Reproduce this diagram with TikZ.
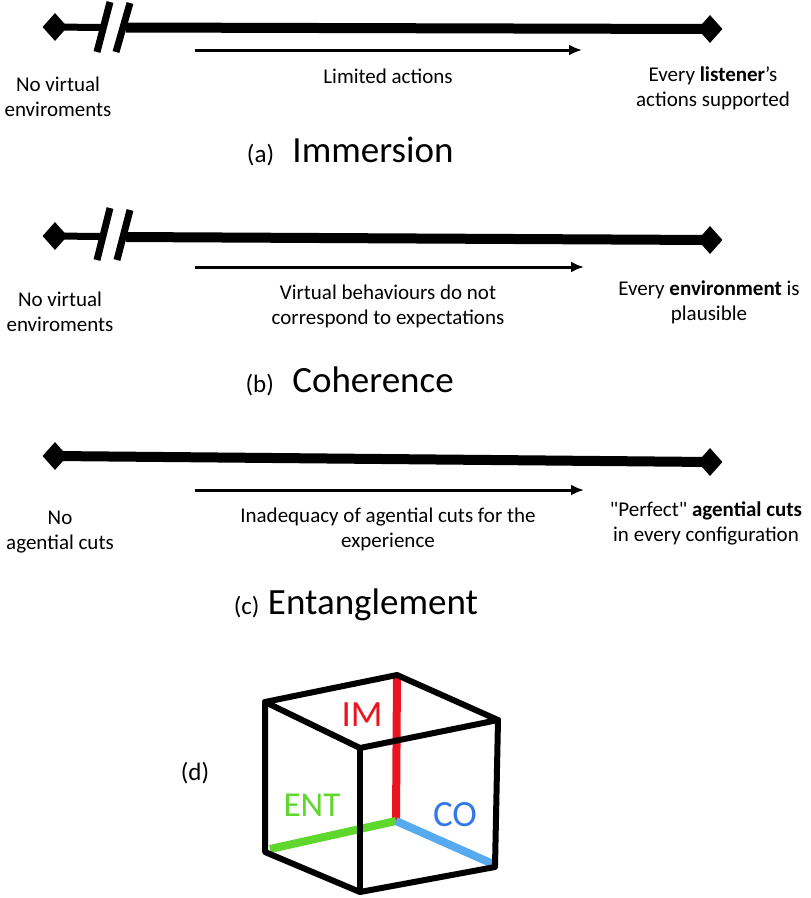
\documentclass[tikz,border=0pt]{standalone}
\usepackage{fontspec}
\setmainfont{Carlito}
\usepackage{xcolor}
\usetikzlibrary{calc, shapes.geometric, positioning, arrows.meta}

\definecolor{imred}{RGB}{235,20,30}
\definecolor{entgreen}{RGB}{95,215,45}
\definecolor{coblue}{RGB}{85,170,240}
\definecolor{cotext}{RGB}{50,120,235}

\tikzset{
    endmark/.style={diamond, fill=black, inner sep=0pt, minimum width=25pt, minimum height=28pt},
    thickbar/.style={line width=10pt},
    thinbar/.style={line width=7pt},
    breakmark/.style={line width=7pt},
    trend/.style={line width=3pt, -{Latex[length=13pt,width=11pt]}},
    lbl/.style={font=\fontsize{21}{25}\selectfont, align=center},
    ttl/.style={font=\fontsize{37}{40}\selectfont, inner sep=0pt},
    tag/.style={font=\fontsize{25}{28}\selectfont, inner sep=0pt},
    edge/.style={line width=6pt, line cap=round, line join=round},
    axis/.style={line width=8pt}
}

\begin{document}
\begin{tikzpicture}[x=1pt, y=-1pt]
    \useasboundingbox (0,0) rectangle (811,898);

    % 1. Immersion
    \node[endmark] (aL) at (55,27) {};
    \node[endmark] (aR) at (710,29) {};
    \coordinate (aB1) at (101,27.5);
    \coordinate (aB2) at (126,27.5);
    \draw[thinbar] (aL.center) -- (aB1);
    \draw[thickbar] (aB2) -- (aR.center);
    \draw[breakmark] (110,2) -- (97,52);
    \draw[breakmark] (130,3) -- (116,52);
    \coordinate (aS) at (195,50);
    \coordinate (aE) at (582,50);
    \draw[trend] (aS) -- (aE);
    \node[lbl] (aLow) at (58,97) {No virtual\\enviroments};
    \node[lbl] (aMid) at (388,76) {Limited actions};
    \node[lbl] (aHigh) at (713,88) {Every \textbf{listener}’s\\actions supported};
    \node[ttl] (aTtl) at (373,150) {Immersion};
    \node[tag, anchor=base east] (aTag) at ($(aTtl.base west)+(-18,0)$) {(a)};

    % 2. Coherence
    \node[endmark] (bL) at (55,236) {};
    \node[endmark] (bR) at (710,240) {};
    \coordinate (bB1) at (101,236.5);
    \coordinate (bB2) at (126,237);
    \draw[thinbar] (bL.center) -- (bB1);
    \draw[thickbar] (bB2) -- (bR.center);
    \draw[breakmark] (110,208) -- (97,260);
    \draw[breakmark] (130,210) -- (117,260);
    \coordinate (bS) at (195,267);
    \coordinate (bE) at (584,267);
    \draw[trend] (bS) -- (bE);
    \node[lbl] (bLow) at (60,312) {No virtual\\enviroments};
    \node[lbl] (bMid) at (388,306) {Virtual behaviours do not\\correspond to expectations};
    \node[lbl] (bHigh) at (709,302) {Every \textbf{environment} is\\plausible};
    \node[ttl] (bTtl) at (373,380) {Coherence};
    \node[tag, anchor=base east] (bTag) at ($(bTtl.base west)+(-18,0)$) {(b)};

    % 3. Entanglement
    \node[endmark] (cL) at (55,456) {};
    \node[endmark] (cR) at (710,462) {};
    \draw[thickbar] (cL.center) -- (cR.center);
    \coordinate (cS) at (195,490);
    \coordinate (cE) at (584,490);
    \draw[trend] (cS) -- (cE);
    \node[lbl] (cLow) at (60,532) {No\\agential cuts};
    \node[lbl] (cMid) at (388,529) {Inadequacy of agential cuts for the\\experience};
    \node[lbl] (cHigh) at (706,523) {\textquotedbl Perfect\textquotedbl{} \textbf{agential cuts}\\in every configuration};
    \node[ttl] (cTtl) at (373,605) {Entanglement};
    \node[tag, anchor=base east] (cTag) at ($(cTtl.base west)+(-8,0)$) {(c)};

    % 4. Cube
    \coordinate (tB) at (397,675);
    \coordinate (tL) at (265,702);
    \coordinate (tF) at (360,748);
    \coordinate (tR) at (498,720);
    \coordinate (bBk) at (396,821);
    \coordinate (bLf) at (265,852);
    \coordinate (bFr) at (360,892);
    \coordinate (bRt) at (495,867);
    \draw[axis, imred] (tB) -- (bBk);
    \draw[axis, entgreen] (bBk) -- (270,849);
    \draw[axis, coblue] (bBk) -- (493,864);
    \draw[edge] (tL) -- (tB) -- (tR) -- (tF) -- cycle;
    \draw[edge] (tL) -- (bLf) -- (bFr) -- (bRt) -- (tR);
    \draw[edge] (tF) -- (bFr);
    \node[ttl, imred] (im) at (362,715) {IM};
    \node[ttl, entgreen, font=\fontsize{35}{38}\selectfont] (ent) at (312,805) {ENT};
    \node[ttl, cotext] (co) at (455,815) {CO};
    \node[tag] (dTag) at (195,773) {(d)};
\end{tikzpicture}
\end{document}
